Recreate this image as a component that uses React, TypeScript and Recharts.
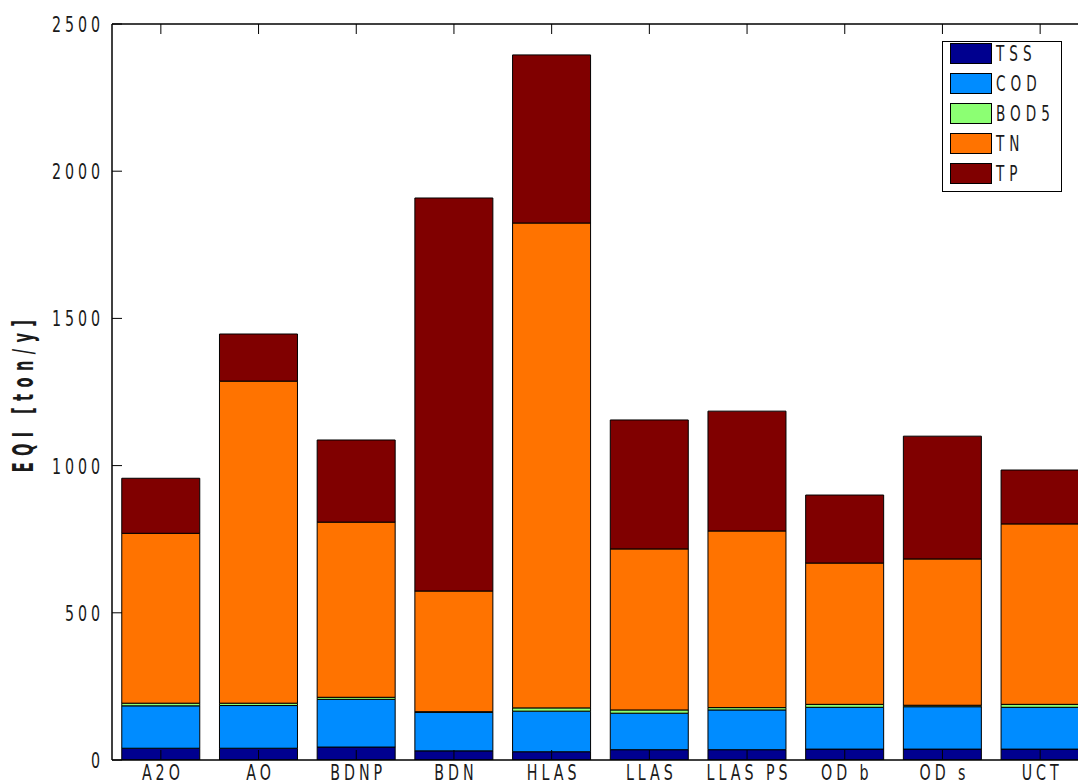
import { Bar, BarChart, Legend, XAxis, YAxis } from "recharts";

const processes = ["A2O", "AO", "BDNP", "BDN", "HLAS", "LLAS", "LLAS PS", "OD b", "OD s", "UCT"];
const tss = [40, 40, 44, 31, 28, 35, 35, 37, 37, 37];
const cod = [144, 145, 162, 131, 138, 124, 135, 142, 144, 142];
const bod5 = [9, 8, 7, 2, 11, 11, 8, 10, 5, 10];
const tn = [577, 1094, 595, 410, 1647, 547, 600, 480, 497, 613];
const tp = [187, 160, 279, 1335, 571, 438, 407, 231, 417, 183];
const yTicks = [0, 500, 1000, 1500, 2000, 2500];

const seriesKeys = ["TSS", "COD", "BOD5", "TN", "TP"];
const seriesColors = ["#00008f", "#008cff", "#8cff73", "#ff7300", "#800000"];

const data = processes.map((name, i) => ({
  name,
  TSS: tss[i],
  COD: cod[i],
  BOD5: bod5[i],
  TN: tn[i],
  TP: tp[i],
}));

const FONT = "'Liberation Sans Narrow', 'DejaVu Sans Condensed', 'Liberation Sans', sans-serif";

type TxtProps = {
  x: number;
  y: number;
  text: string;
  anchor?: "start" | "middle" | "end";
  size?: number;
  sx?: number;
  ls?: number;
  bold?: boolean;
  rotate?: boolean;
};

function Txt({ x, y, text, anchor = "start", size = 22, sx = 0.72, ls = 5.5, bold, rotate }: TxtProps) {
  const t = `translate(${x},${y})${rotate ? " rotate(-90)" : ""} scale(${sx},1)`;
  return (
    <text
      transform={t}
      x={0}
      y={0}
      textAnchor={anchor}
      fontFamily={FONT}
      fontSize={size}
      fontWeight={bold ? "bold" : "normal"}
      letterSpacing={ls}
      fill="#1a1a1a"
    >
      {text}
    </text>
  );
}

const YTick = (props: any) => {
  const { x, y, payload } = props;
  return (
    <g>
      <line x1={x} x2={x + 10} y1={y} y2={y} stroke="#000" />
      <Txt x={x - 8} y={y + 8} text={String(payload.value)} anchor="end" />
    </g>
  );
};

const XTick = (props: any) => {
  const { x, y, payload } = props;
  return (
    <g>
      <line x1={x} x2={x} y1={y} y2={y - 10} stroke="#000" />
      <Txt x={x + 2} y={780} text={payload.value} anchor="middle" />
    </g>
  );
};

const TopTick = (props: any) => {
  const { x, y } = props;
  return <line x1={x} x2={x} y1={y} y2={y + 10} stroke="#000" />;
};

const RightTick = (props: any) => {
  const { x, y } = props;
  return <line x1={x} x2={x - 10} y1={y} y2={y} stroke="#000" />;
};

const LegendBox = () => (
  <svg width={121} height={152}>
    <rect x={0.5} y={0.5} width={119} height={150} fill="#fff" stroke="#000" />
    {seriesKeys.map((key, i) => (
      <g key={key}>
        <rect x={8.5} y={2.5 + i * 30} width={41} height={20} fill={seriesColors[i]} stroke="#000" />
        <Txt x={54} y={20 + i * 30} text={key} size={21} ls={7} />
      </g>
    ))}
  </svg>
);

export default function App() {
  return (
    <div
      style={{
        position: "fixed",
        left: 0,
        top: 0,
        width: 1078,
        height: 782,
        overflow: "hidden",
        background: "#fff",
      }}
    >
      <BarChart
        width={1100}
        height={782}
        data={data}
        barCategoryGap="10%"
        margin={{ top: 0, right: 0, bottom: 0, left: 0 }}
      >
        <XAxis
          dataKey="name"
          height={22}
          tickSize={0}
          tickMargin={0}
          tickLine={false}
          tick={XTick}
          axisLine={{ stroke: "#000", strokeWidth: 1.5 }}
          interval={0}
        />
        <XAxis
          xAxisId="top"
          dataKey="name"
          orientation="top"
          height={24}
          tickSize={0}
          tickMargin={0}
          tickLine={false}
          tick={TopTick}
          axisLine={{ stroke: "#000", strokeWidth: 1.5 }}
          interval={0}
        />
        <YAxis
          width={112}
          domain={[0, 2500]}
          ticks={yTicks}
          tickSize={0}
          tickMargin={0}
          tickLine={false}
          tick={YTick}
          axisLine={{ stroke: "#000", strokeWidth: 1.5 }}
          allowDataOverflow
        />
        <YAxis
          yAxisId="right"
          orientation="right"
          width={11}
          domain={[0, 2500]}
          ticks={yTicks}
          tickSize={0}
          tickMargin={0}
          tickLine={false}
          tick={RightTick}
          axisLine={{ stroke: "#000", strokeWidth: 1.5 }}
        />
        <Legend
          layout="vertical"
          align="center"
          verticalAlign="middle"
          content={LegendBox}
          wrapperStyle={{ position: "absolute", left: 942, top: 41, width: 121, height: 152 }}
        />
        {seriesKeys.map((key, i) => (
          <Bar
            key={key}
            dataKey={key}
            stackId="eqi"
            fill={seriesColors[i]}
            stroke="#000"
            strokeWidth={1}
            isAnimationActive={false}
          />
        ))}
        <Txt x={33} y={393} text="EQI [ton/y]" anchor="middle" size={28} sx={0.58} ls={11} bold rotate />
      </BarChart>
    </div>
  );
}
